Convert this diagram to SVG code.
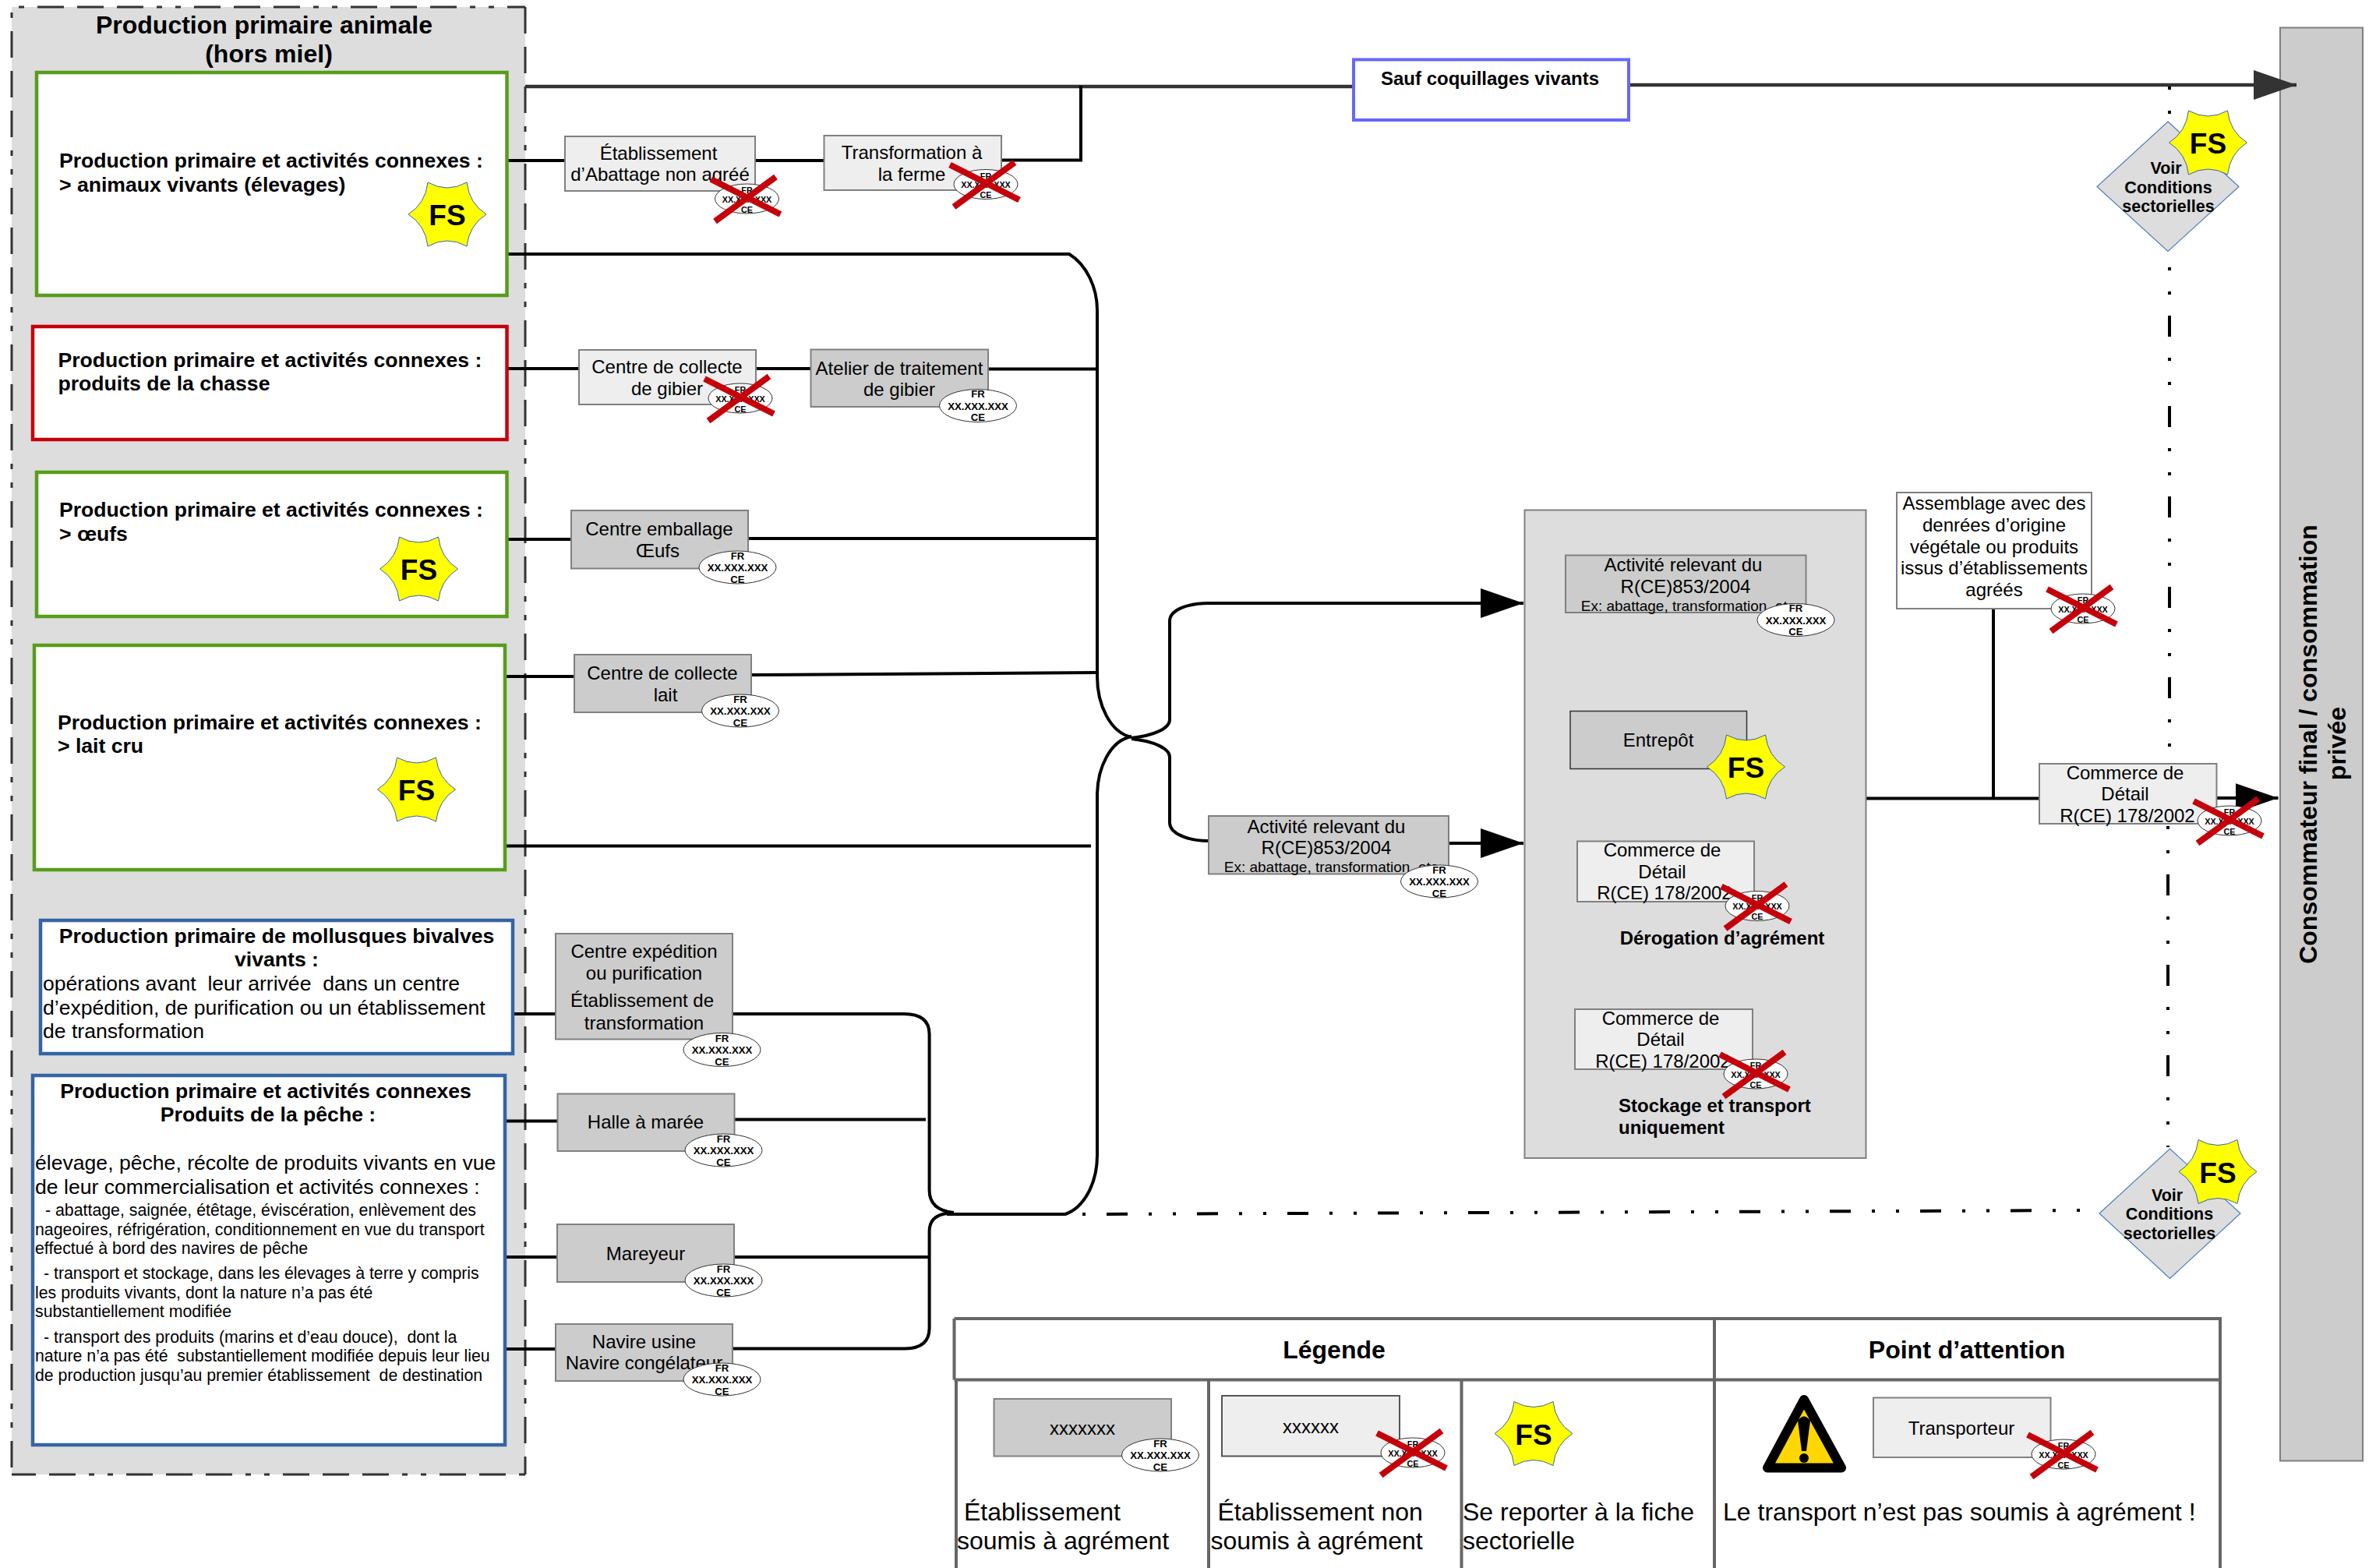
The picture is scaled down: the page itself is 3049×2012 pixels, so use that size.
<svg xmlns="http://www.w3.org/2000/svg" width="3049" height="2012" viewBox="0 0 3049 2012">
<style>
text{font-family:"Liberation Sans",Arial,sans-serif;fill:#000}
.h{font-size:32px;font-weight:bold;text-anchor:middle}
.b{font-size:26.6px;font-weight:bold}
.bc{font-size:26.6px;font-weight:bold;text-anchor:middle}
.n{font-size:26.6px}
.s{font-size:21.3px}
.t{font-size:24px;text-anchor:middle}
.ex{font-size:19px;text-anchor:middle}
.l{font-size:32px}
.bl{font-size:24px;font-weight:bold}
.d{font-size:21.5px;font-weight:bold;text-anchor:middle}
.fs{font-size:37px;font-weight:bold;text-anchor:middle}
.rot{font-size:32px;font-weight:bold;text-anchor:middle}
.bg{fill:#fff;stroke:#333;stroke-width:1}
.bt{font-size:13.2px;font-weight:bold;text-anchor:middle}
.bs{font-size:10.8px;font-weight:bold;text-anchor:middle}
.dk{fill:#ccc;stroke:#808080;stroke-width:2}
.lt{fill:#eee;stroke:#808080;stroke-width:2}
.wh{fill:#fff;stroke:#808080;stroke-width:2}
.gr{fill:none;stroke:#579d1c;stroke-width:4.5}
.rd{fill:none;stroke:#c5000b;stroke-width:4.5}
.bu{fill:none;stroke:#3465a4;stroke-width:4.5}
.c{fill:none;stroke:#000;stroke-width:4}
.dd{fill:none;stroke:#000;stroke-width:4;stroke-dasharray:27 27 4 27 4 27}
.oe{fill:none;stroke:#333;stroke-width:3;stroke-dasharray:34 17 34 17 34 17 7 17 7 17}
.tb{fill:none;stroke:#666;stroke-width:4}
</style>
<defs>
<path id="star" d="M-25 -41Q0 -27 25 -41Q28 -14 50 0Q28 14 25 41Q0 27 -25 41Q-28 14 -50 0Q-28 -14 -25 -41Z" fill="#ff0" stroke="#3465a4" stroke-width="1"/>
<g id="xm" stroke="#c5000b" stroke-width="8" fill="none"><path d="M-46 -25L43 20M37 -28L-41 29"/></g>
<marker id="ah" markerUnits="userSpaceOnUse" markerWidth="56" markerHeight="38" refX="55" refY="19" orient="auto"><path d="M0 0L55 19L0 38Z" fill="#000"/></marker>
<marker id="ag" markerUnits="userSpaceOnUse" markerWidth="56" markerHeight="38" refX="55" refY="19" orient="auto"><path d="M0 0L55 19L0 38Z" fill="#333"/></marker>
</defs>

<g id="production-animale">
<rect x="15" y="9" width="659" height="1883" fill="#ddd"/>
<path class="oe" stroke-dashoffset="170" d="M15 9V1892"/>
<path class="oe" stroke-dashoffset="168" d="M15 9H674"/>
<path class="oe" d="M674 9V1892"/>
<path class="oe" stroke-dashoffset="54" d="M15 1892H674"/>
<text class="h" x="339" y="43">Production primaire animale</text>
<text class="h" x="345" y="80">(hors miel)</text>
</g>

<g id="consommateur">
<rect x="2926" y="35.500" width="106" height="1839" fill="#ccc" stroke="#808080" stroke-width="2"/>
<text class="rot" transform="translate(2973 955) rotate(-90)">Consommateur final / consommation</text>
<text class="rot" transform="translate(3010 954) rotate(-90)">privée</text>
</g>

<g id="connectors">
<path d="M674 111H1737" fill="none" stroke="#333" stroke-width="4.5"/>
<path d="M2091 109H2947" fill="none" stroke="#333" stroke-width="4.5" marker-end="url(#ag)"/>
<path class="c" d="M650 206H725M969 206H1057M1285 205.500H1387V110"/>
<path class="c" d="M650 326H1372C1395 340 1408 370 1408 398V868C1408 905 1425 940 1452 946"/>
<path class="c" d="M1452 945C1425 950 1408 985 1408 1021V1482C1408 1520 1390 1550 1367 1558H1215"/>
<path class="c" d="M650 473H743M970 473H1040M1268 473.500H1408"/>
<path class="c" d="M650 692H733M960 691H1408"/>
<path class="c" d="M648 868H737M964 866L1408 863"/>
<path class="c" d="M648 1085.500H1400"/>
<path class="c" d="M658 1301H713M940 1301H1160Q1192.600 1301 1192.600 1327V1527Q1192.600 1553 1224 1556"/>
<path class="c" d="M648 1438.500H715.500M942.600 1436.500H1188"/>
<path class="c" d="M648 1613H715M942 1613H1192"/>
<path class="c" d="M648 1731H713M940 1730.500H1162Q1192.600 1730 1192.600 1704V1580Q1192.600 1560 1215 1557"/>
<path class="c" d="M1452 947C1480 944 1501 935 1501 923.500V797C1501 782 1525 774 1552 774H1955" marker-end="url(#ah)"/>
<path class="c" d="M1452 948C1480 951 1501 960 1501 971.500V1055.500C1501 1070 1525 1079 1551 1079"/>
<path class="c" d="M1859 1082H1955" marker-end="url(#ah)"/>
<path class="c" d="M2395 1024.500H2617M2558 781V1024M2844 1024H2923.500" marker-end="url(#ah)"/>
<path class="dd" stroke-dashoffset="54" d="M2784 111V1040"/>
<path class="dd" stroke-dashoffset="54" d="M2782 1060V1472"/>
<path class="dd" stroke-dashoffset="85" d="M1389 1558L2696 1553"/>
</g>

<g id="animaux-vivants">
<rect class="gr" x="47" y="93" width="603.500" height="286" style="fill:#fff"/>
<text class="b" x="76" y="215">Production primaire et activités connexes :</text>
<text class="b" x="76" y="246">&gt; animaux vivants (élevages)</text>
<use href="#star" x="574" y="275"/><text class="fs" x="574" y="289">FS</text>
</g>
<g id="chasse">
<rect class="rd" x="42" y="419" width="608.500" height="145" style="fill:#fff"/>
<text class="b" x="74.500" y="471">Production primaire et activités connexes :</text>
<text class="b" x="74.500" y="501">produits de la chasse</text>
</g>
<g id="oeufs">
<rect class="gr" x="47" y="606" width="603.500" height="185" style="fill:#fff"/>
<text class="b" x="76" y="663">Production primaire et activités connexes :</text>
<text class="b" x="76" y="694">&gt; œufs</text>
<use href="#star" x="537.500" y="730"/><text class="fs" x="537.500" y="744">FS</text>
</g>
<g id="lait-cru">
<rect class="gr" x="44" y="828" width="604" height="288" style="fill:#fff"/>
<text class="b" x="74" y="936">Production primaire et activités connexes :</text>
<text class="b" x="74" y="966">&gt; lait cru</text>
<use href="#star" x="534.500" y="1013"/><text class="fs" x="534.500" y="1027">FS</text>
</g>
<g id="mollusques">
<rect class="bu" x="52" y="1181" width="606" height="171" style="fill:#fff"/>
<text class="bc" x="355" y="1210">Production primaire de mollusques bivalves</text>
<text class="bc" x="355" y="1240">vivants :</text>
<text class="n" x="55" y="1270.500">opérations avant &#160;leur arrivée &#160;dans un centre</text>
<text class="n" x="55" y="1302">d’expédition, de purification ou un établissement</text>
<text class="n" x="55" y="1332">de transformation</text>
</g>
<g id="peche">
<rect class="bu" x="42" y="1380" width="606" height="474" style="fill:#fff"/>
<text class="bc" x="341" y="1409">Production primaire et activités connexes</text>
<text class="bc" x="344" y="1439">Produits de la pêche :</text>
<text class="n" x="45" y="1501">élevage, pêche, récolte de produits vivants en vue</text>
<text class="n" x="45" y="1531.500">de leur commercialisation et activités connexes :</text>
<text class="s" x="58" y="1560">- abattage, saignée, étêtage, éviscération, enlèvement des</text>
<text class="s" x="45" y="1585">nageoires, réfrigération, conditionnement en vue du transport</text>
<text class="s" x="45" y="1609">effectué à bord des navires de pêche</text>
<text class="s" x="56" y="1641">- transport et stockage, dans les élevages à terre y compris</text>
<text class="s" x="45" y="1666">les produits vivants, dont la nature n’a pas été</text>
<text class="s" x="45" y="1690">substantiellement modifiée</text>
<text class="s" x="56" y="1723">- transport des produits (marins et d’eau douce), &#160;dont la</text>
<text class="s" x="45" y="1747">nature n’a pas été &#160;substantiellement modifiée depuis leur lieu</text>
<text class="s" x="45" y="1772">de production jusqu’au premier établissement &#160;de destination</text>
</g>

<g id="abattage">
<rect class="lt" x="725" y="175" width="244" height="70"/>
<text class="t" x="845" y="204.500">Établissement</text><text class="t" x="847" y="232">d’Abattage non agréé</text>
<ellipse class="bg" cx="958.500" cy="255" rx="41" ry="19"/>
<text class="bs" x="958.500" y="248">FR</text><text class="bs" x="958.500" y="259.500">XX.XXX.XXX</text><text class="bs" x="958.500" y="272.500">CE</text>
<use href="#xm" x="958.500" y="255"/>
</g>
<g id="transformation-ferme">
<rect class="lt" x="1057.500" y="174" width="227.500" height="70"/>
<text class="t" x="1170" y="204">Transformation à</text><text class="t" x="1170" y="232">la ferme</text>
<ellipse class="bg" cx="1265" cy="236.500" rx="41" ry="19"/>
<text class="bs" x="1265" y="229.500">FR</text><text class="bs" x="1265" y="241">XX.XXX.XXX</text><text class="bs" x="1265" y="254">CE</text>
<use href="#xm" x="1265" y="236.500"/>
</g>
<g id="sauf-coquillages">
<rect x="1737" y="76.500" width="353" height="77.500" fill="#fff" stroke="#6666ff" stroke-width="4"/>
<text class="bl" x="1912" y="109" text-anchor="middle">Sauf coquillages vivants</text>
</g>
<g id="collecte-gibier">
<rect class="lt" x="743" y="449" width="227" height="70"/>
<text class="t" x="856" y="479">Centre de collecte</text><text class="t" x="856" y="507">de gibier</text>
<ellipse class="bg" cx="950" cy="511" rx="41" ry="19"/>
<text class="bs" x="950" y="504">FR</text><text class="bs" x="950" y="515.500">XX.XXX.XXX</text><text class="bs" x="950" y="528.500">CE</text>
<use href="#xm" x="950" y="511"/>
</g>
<g id="atelier-gibier">
<rect class="dk" x="1040.500" y="448.500" width="227.500" height="73.500"/>
<text class="t" x="1154" y="480.500">Atelier de traitement</text><text class="t" x="1154" y="508">de gibier</text>
<ellipse class="bg" cx="1255" cy="520.500" rx="49.500" ry="21"/>
<text class="bt" x="1255" y="510">FR</text><text class="bt" x="1255" y="525.500">XX.XXX.XXX</text><text class="bt" x="1255" y="540">CE</text>
</g>
<g id="emballage-oeufs">
<rect class="dk" x="733" y="655" width="227" height="74.500"/>
<text class="t" x="846" y="687">Centre emballage</text><text class="t" x="844" y="715">Œufs</text>
<ellipse class="bg" cx="946.500" cy="728" rx="49.500" ry="21"/>
<text class="bt" x="946.500" y="717.500">FR</text><text class="bt" x="946.500" y="733">XX.XXX.XXX</text><text class="bt" x="946.500" y="747.500">CE</text>
</g>
<g id="collecte-lait">
<rect class="dk" x="737" y="840" width="227" height="74"/>
<text class="t" x="850" y="872">Centre de collecte</text><text class="t" x="854" y="900">lait</text>
<ellipse class="bg" cx="950" cy="912" rx="49.500" ry="21"/>
<text class="bt" x="950" y="901.500">FR</text><text class="bt" x="950" y="917">XX.XXX.XXX</text><text class="bt" x="950" y="931.500">CE</text>
</g>
<g id="expedition">
<rect class="dk" x="713" y="1198" width="227" height="135.500"/>
<text class="t" x="826.500" y="1229">Centre expédition</text><text class="t" x="826.500" y="1257">ou purification</text>
<text class="t" x="824" y="1292">Établissement de</text><text class="t" x="826.500" y="1320.500">transformation</text>
<ellipse class="bg" cx="926.500" cy="1347" rx="49.500" ry="21.500"/>
<text class="bt" x="926.500" y="1336.500">FR</text><text class="bt" x="926.500" y="1352">XX.XXX.XXX</text><text class="bt" x="926.500" y="1366.500">CE</text>
</g>
<g id="halle">
<rect class="dk" x="715.500" y="1403.500" width="227" height="73.500"/>
<text class="t" x="828.500" y="1448">Halle à marée</text>
<ellipse class="bg" cx="928.500" cy="1476" rx="49.500" ry="21"/>
<text class="bt" x="928.500" y="1465.500">FR</text><text class="bt" x="928.500" y="1481">XX.XXX.XXX</text><text class="bt" x="928.500" y="1495.500">CE</text>
</g>
<g id="mareyeur">
<rect class="dk" x="715" y="1571" width="227" height="74"/>
<text class="t" x="828.500" y="1617">Mareyeur</text>
<ellipse class="bg" cx="928.500" cy="1643" rx="49.500" ry="21"/>
<text class="bt" x="928.500" y="1632.500">FR</text><text class="bt" x="928.500" y="1648">XX.XXX.XXX</text><text class="bt" x="928.500" y="1662.500">CE</text>
</g>
<g id="navire">
<rect class="dk" x="713" y="1699" width="227" height="73"/>
<text class="t" x="826.500" y="1730">Navire usine</text><text class="t" x="826.500" y="1757">Navire congélateur</text>
<ellipse class="bg" cx="926.500" cy="1770" rx="49.500" ry="21"/>
<text class="bt" x="926.500" y="1759.500">FR</text><text class="bt" x="926.500" y="1775">XX.XXX.XXX</text><text class="bt" x="926.500" y="1789.500">CE</text>
</g>
<g id="activite-amont">
<rect class="dk" x="1551" y="1047" width="308" height="74.500"/>
<text class="t" x="1702" y="1069">Activité relevant du</text><text class="t" x="1702" y="1096">R(CE)853/2004</text>
<text class="ex" x="1708" y="1119">Ex: abattage, transformation, etc</text>
<ellipse class="bg" cx="1847" cy="1131" rx="49.500" ry="21"/>
<text class="bt" x="1847" y="1120.500">FR</text><text class="bt" x="1847" y="1136">XX.XXX.XXX</text><text class="bt" x="1847" y="1150.500">CE</text>
</g>

<g id="groupe-etablissements">
<rect x="1956.500" y="654.500" width="438" height="831.500" fill="#ddd" stroke="#808080" stroke-width="2"/>
<g id="activite-aval">
<rect class="dk" x="2009" y="712.500" width="308.500" height="73.500"/>
<text class="t" x="2160" y="733">Activité relevant du</text><text class="t" x="2163" y="761">R(CE)853/2004</text>
<text class="ex" x="2166" y="784">Ex: abattage, transformation, etc</text>
<ellipse class="bg" cx="2304.500" cy="795.500" rx="49.500" ry="21"/>
<text class="bt" x="2304.500" y="785">FR</text><text class="bt" x="2304.500" y="800.500">XX.XXX.XXX</text><text class="bt" x="2304.500" y="815">CE</text>
</g>
<g id="entrepot">
<rect x="2015" y="912.500" width="226.500" height="74" fill="#ccc" stroke="#333" stroke-width="1.500"/>
<text class="t" x="2128" y="958">Entrepôt</text>
<use href="#star" x="2240.500" y="984"/><text class="fs" x="2240.500" y="998">FS</text>
</g>
<g id="commerce-derogation">
<rect class="lt" x="2024" y="1079.500" width="227" height="77.500"/>
<text class="t" x="2133" y="1099">Commerce de</text><text class="t" x="2133" y="1127">Détail</text><text class="t" x="2136" y="1153.500">R(CE) 178/2002</text>
<ellipse class="bg" cx="2255" cy="1162.500" rx="41" ry="19"/>
<text class="bs" x="2255" y="1155.500">FR</text><text class="bs" x="2255" y="1167">XX.XXX.XXX</text><text class="bs" x="2255" y="1180">CE</text>
<use href="#xm" x="2255" y="1162.500"/>
<text class="bl" x="2210" y="1211.500" text-anchor="middle">Dérogation d’agrément</text>
</g>
<g id="commerce-stockage">
<rect class="lt" x="2021" y="1295" width="228" height="77"/>
<text class="t" x="2131" y="1315">Commerce de</text><text class="t" x="2131" y="1342">Détail</text><text class="t" x="2134" y="1370">R(CE) 178/2002</text>
<ellipse class="bg" cx="2253" cy="1378" rx="41" ry="19"/>
<text class="bs" x="2253" y="1371">FR</text><text class="bs" x="2253" y="1382.500">XX.XXX.XXX</text><text class="bs" x="2253" y="1395.500">CE</text>
<use href="#xm" x="2253" y="1378"/>
<text class="bl" x="2077" y="1427">Stockage et transport</text><text class="bl" x="2077" y="1455">uniquement</text>
</g>
</g>

<g id="assemblage">
<rect class="wh" x="2434" y="632" width="250" height="149"/>
<text class="t" x="2559" y="653.500">Assemblage avec des</text><text class="t" x="2559" y="681.500">denrées d’origine</text><text class="t" x="2559" y="710">végétale ou produits</text><text class="t" x="2559" y="737">issus d’établissements</text><text class="t" x="2559" y="765">agréés</text>
<ellipse class="bg" cx="2673" cy="781" rx="41" ry="19"/>
<text class="bs" x="2673" y="774">FR</text><text class="bs" x="2673" y="785.500">XX.XXX.XXX</text><text class="bs" x="2673" y="798.500">CE</text>
<use href="#xm" x="2673" y="781"/>
</g>
<g id="commerce-detail">
<rect class="lt" x="2617" y="980" width="227.500" height="77"/>
<text class="t" x="2727" y="999.500">Commerce de</text><text class="t" x="2727" y="1027">Détail</text><text class="t" x="2730" y="1054.500">R(CE) 178/2002</text>
<ellipse class="bg" cx="2861" cy="1053" rx="41" ry="19"/>
<text class="bs" x="2861" y="1046">FR</text><text class="bs" x="2861" y="1057.500">XX.XXX.XXX</text><text class="bs" x="2861" y="1070.500">CE</text>
<use href="#xm" x="2861" y="1053"/>
</g>
<g id="conditions-haut">
<path d="M2782 156L2873 239.500L2782 322.500L2691 239.500Z" fill="#ddd" stroke="#4a7ebb" stroke-width="1.200"/>
<text class="d" x="2779.500" y="222.500">Voir</text><text class="d" x="2782.500" y="247.500">Conditions</text><text class="d" x="2782.500" y="271.500">sectorielles</text>
<use href="#star" x="2833.500" y="183"/><text class="fs" x="2833.500" y="197">FS</text>
</g>
<g id="conditions-bas">
<path d="M2784.500 1474L2875 1557L2784.500 1640.500L2694 1557Z" fill="#ddd" stroke="#4a7ebb" stroke-width="1.200"/>
<text class="d" x="2781" y="1540.500">Voir</text><text class="d" x="2784" y="1565">Conditions</text><text class="d" x="2784" y="1590">sectorielles</text>
<use href="#star" x="2846" y="1503.500"/><text class="fs" x="2846" y="1517.500">FS</text>
</g>

<g id="legende">
<path class="tb" d="M1224.500 1692H2849V2012M1224.500 1692V1770.500M1224.500 1770.500H2849M2200 1692V2012M1227 1770.500V2012M1551 1770.500V2012M1875.500 1770.500V2012"/>
<text class="h" x="1712" y="1743">Légende</text>
<text class="h" x="2524" y="1743">Point d’attention</text>
<rect class="dk" x="1275.500" y="1795" width="227.500" height="73.500"/>
<text class="t" x="1389" y="1841">xxxxxxx</text>
<ellipse class="bg" cx="1489" cy="1867" rx="49.500" ry="21"/>
<text class="bt" x="1489" y="1856.500">FR</text><text class="bt" x="1489" y="1872">XX.XXX.XXX</text><text class="bt" x="1489" y="1886.500">CE</text>
<text class="l" x="1237" y="1951">Établissement</text><text class="l" x="1228" y="1988">soumis à agrément</text>
<rect class="lt" x="1568" y="1791" width="228" height="77.500" style="stroke:#555"/>
<text class="t" x="1682" y="1839">xxxxxx</text>
<ellipse class="bg" cx="1813" cy="1864" rx="41" ry="19"/>
<text class="bs" x="1813" y="1857">FR</text><text class="bs" x="1813" y="1868.500">XX.XXX.XXX</text><text class="bs" x="1813" y="1881.500">CE</text>
<use href="#xm" x="1813" y="1864"/>
<text class="l" x="1562.500" y="1951">Établissement non</text><text class="l" x="1553.500" y="1988">soumis à agrément</text>
<use href="#star" x="1968" y="1839.500"/><text class="fs" x="1968" y="1853.500">FS</text>
<text class="l" x="1877" y="1951">Se reporter à la fiche</text><text class="l" x="1877" y="1988">sectorielle</text>
<path d="M2315 1796L2268 1883.500H2363Z" fill="#ffd700" stroke="#000" stroke-width="12" stroke-linejoin="round"/>
<path d="M2307 1823Q2315 1812 2323 1823L2318 1862H2312Z" fill="#000"/>
<circle cx="2315" cy="1871" r="6" fill="#000"/>
<rect class="lt" x="2404" y="1793.500" width="227.500" height="76.500"/>
<text class="t" x="2517" y="1841">Transporteur</text>
<ellipse class="bg" cx="2648" cy="1866" rx="41" ry="19"/>
<text class="bs" x="2648" y="1859">FR</text><text class="bs" x="2648" y="1870.500">XX.XXX.XXX</text><text class="bs" x="2648" y="1883.500">CE</text>
<use href="#xm" x="2648" y="1866"/>
<text class="l" x="2211" y="1951">Le transport n’est pas soumis à agrément !</text>
</g>
</svg>
